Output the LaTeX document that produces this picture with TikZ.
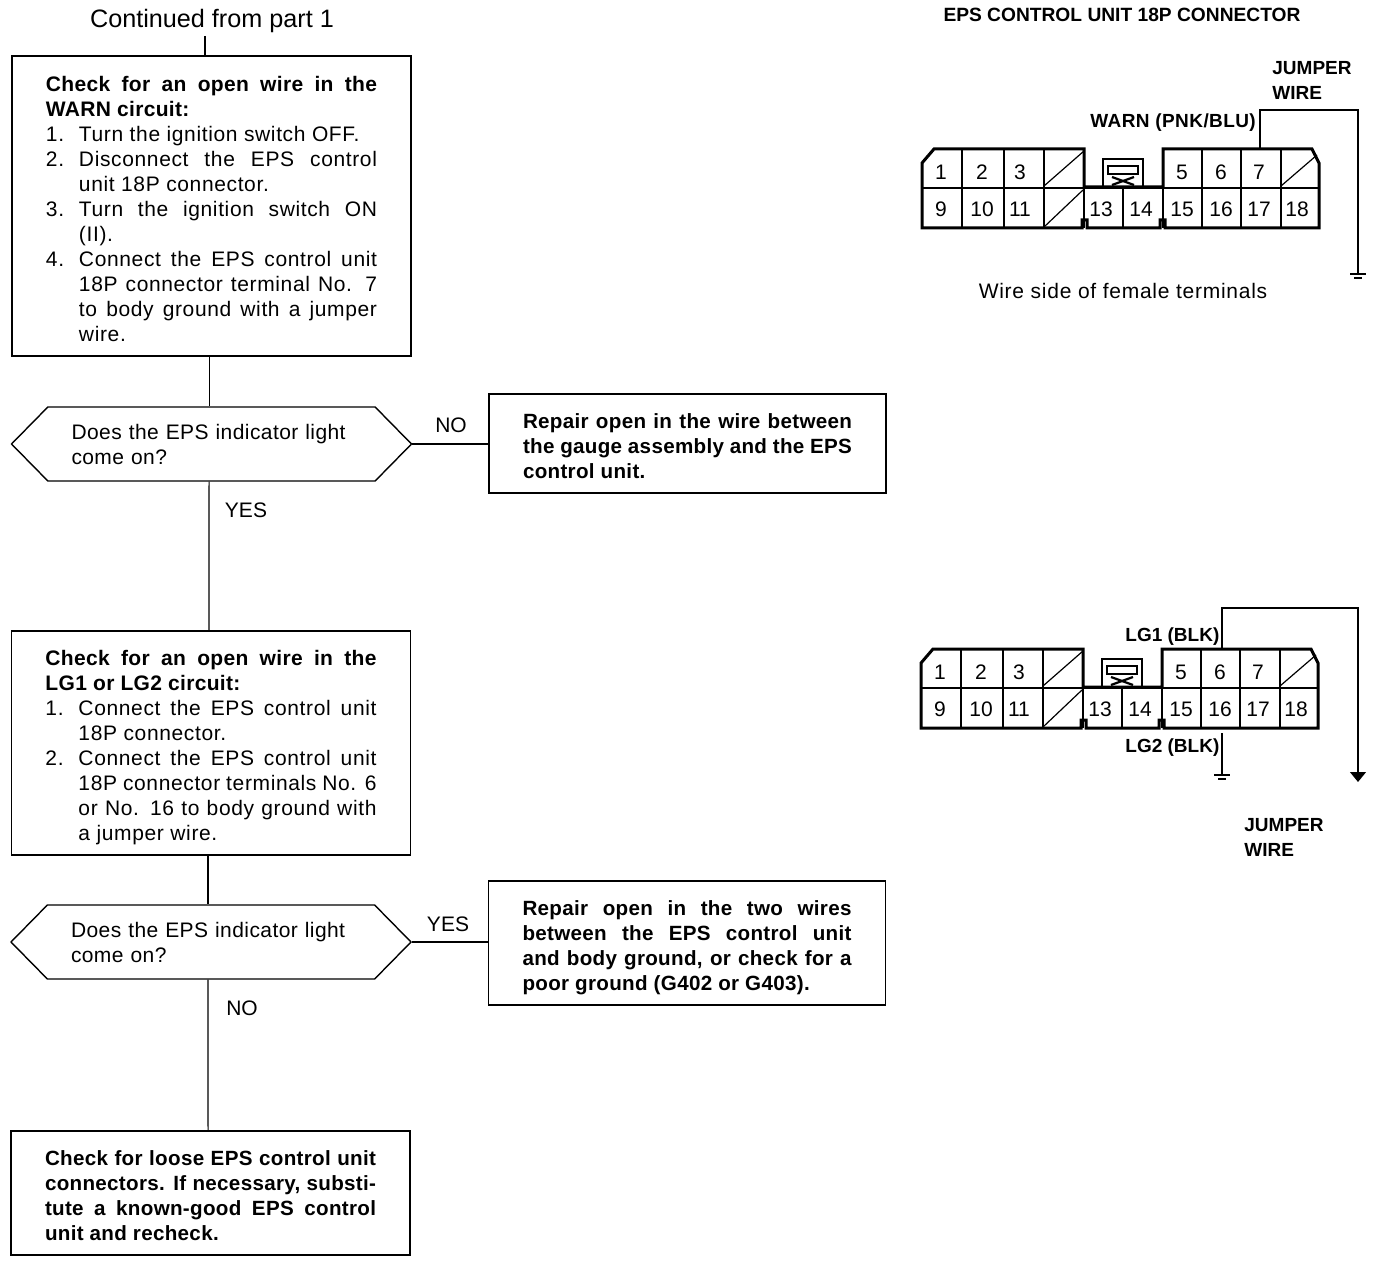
\documentclass[tikz,border=0pt]{standalone}
\usepackage{fontspec}
\setmainfont{Liberation Sans}
\usetikzlibrary{shapes.symbols,arrows.meta}
\newcommand{\stepitem}[2]{\par\hangindent=16.5pt\hangafter=1\noindent\hbox to 16.5pt{#1\hfil}#2\par}
\tikzset{
    textdrop/.style={execute at begin node={\rule{0pt}{#1}}},
    flowbox/.style={draw, line width=0.7pt, rectangle, inner xsep=17pt, inner ysep=0pt, text width=165.5pt, align=justify, font=\fontsize{10.5}{12.5}\selectfont\addfontfeatures{LetterSpace=3}},
    repairbox/.style={flowbox, inner xsep=17pt, text width=164.5pt, font=\fontsize{10.3}{12.5}\selectfont\bfseries\addfontfeatures{LetterSpace=1.5}},
    decision/.style={draw, line width=0.7pt, signal, signal to=west and east, signal pointer angle=91, minimum width=200pt, minimum height=37pt, inner sep=0pt, text width=140pt, align=left, font=\fontsize{10.5}{12.5}\selectfont\addfontfeatures{LetterSpace=2}},
    answer/.style={inner sep=0pt, font=\fontsize{10.5}{12.5}\selectfont},
    tag/.style={inner sep=0pt, anchor=west, align=left, font=\fontsize{9.5}{12.5}\selectfont\bfseries},
    pinnum/.style={inner sep=0pt, font=\fontsize{10.5}{12.5}\selectfont},
    wire/.style={line width=0.6pt},
    pics/epsconn/.style={code={
        \draw[line width=1.5pt] (0,14) -- (12,0) -- (162,0) -- (162,38) -- (241,38) -- (241,0) -- (390,0) -- (397,14) -- (397,79) -- (243,79) -- (243,71) -- (238,71) -- (238,79) -- (165,79) -- (165,71) -- (160,71) -- (160,79) -- (0,79) -- cycle;
        \draw[line width=0.7pt] (0,39) -- (397,39);
        \foreach \x in {40,82,122,280,319,359} {
            \draw[line width=0.6pt] (\x,0) -- (\x,79);
        }
        \draw[line width=0.6pt] (201,39) -- (201,79);
        \draw[line width=0.6pt] (162,38) -- (162,79);
        \draw[line width=0.6pt] (241,38) -- (241,79);
        % blanked cells
        \draw[line width=0.6pt] (122,37) -- (162,2);
        \draw[line width=0.6pt] (122,78) -- (161,41);
        \draw[line width=0.6pt] (359,37) -- (395,6);
        % latch
        \draw[line width=1.3pt] (181,38) -- (181,10) -- (221,10) -- (221,38);
        \draw[line width=1.1pt] (186,17) rectangle (216,25);
        \draw[line width=1.1pt] (190,28) -- (212,36);
        \draw[line width=1.1pt] (212,28) -- (190,36);
        \foreach \n/\x in {1/19,2/60,3/98,5/260,6/299,7/337} {
            \node[pinnum] (p\n) at (\x,23) {\n};
        }
        \foreach \n/\x in {9/19,10/60,11/98,13/179,14/219,15/260,16/299,17/337,18/375} {
            \node[pinnum] (p\n) at (\x,60) {\n};
        }
    }},
    pics/gnd/.style={code={
        \draw[line width=0.9pt] (-8,0) -- (8,0);
        \draw[line width=0.9pt] (-4,4) -- (4,4);
    }},
}
\begin{document}
\begin{tikzpicture}[x=0.5pt, y=-0.5pt]
    \useasboundingbox (0,0) rectangle (1376,1262);
    % flow chart
    \node[inner sep=0pt, font=\fontsize{12.6}{14}\selectfont] (cont) at (212,21) {Continued from part 1};
    \node[flowbox, textdrop=10.6pt, minimum height=150pt] (warnbox) at (211.5,206) {{\bfseries\addfontfeatures{LetterSpace=1.5} Check for an open wire in the\linebreak WARN circuit:}
        \stepitem{1.}{Turn the ignition switch OFF.}
        \stepitem{2.}{Disconnect the EPS control\linebreak unit 18P connector.}
        \stepitem{3.}{Turn the ignition switch ON\linebreak (II).}
        \stepitem{4.}{Connect the EPS control unit\linebreak 18P connector terminal No. 7\linebreak to body ground with a jumper\linebreak wire.}};
    \node[decision] (lightone) at (211.5,444) {Does the EPS indicator light\\come on?};
    \node[repairbox, textdrop=10.6pt, minimum height=49.5pt] (repairone) at (687.5,443.5) {Repair open in the wire between\linebreak the gauge assembly and the EPS\linebreak control unit.};
    \node[flowbox, textdrop=12.6pt, minimum height=112pt] (lgbox) at (211,743) {{\bfseries\addfontfeatures{LetterSpace=1.5} Check for an open wire in the\linebreak LG1 or LG2 circuit:}
        \stepitem{1.}{Connect the EPS control unit\linebreak 18P connector.}
        \stepitem{2.}{Connect the EPS control unit\linebreak 18P connector terminals No. 6\linebreak or No. 16 to body ground with\linebreak a jumper wire.}};
    \node[decision] (lighttwo) at (211,942) {Does the EPS indicator light\\come on?};
    \node[repairbox, textdrop=12.6pt, minimum height=62pt] (repairtwo) at (687,943) {Repair open in the two wires\linebreak between the EPS control unit\linebreak and body ground, or check for a\linebreak poor ground (G402 or G403).};
    \node[repairbox, textdrop=9.6pt, text width=165.5pt, minimum height=62pt] (loosebox) at (210.5,1193) {Check for loose EPS control unit\linebreak connectors. If necessary, substi-\linebreak tute a known-good EPS control\linebreak unit and recheck.};
    \coordinate (contend) at (205,36);
    \draw[wire] (contend) -- (contend |- warnbox.north);
    \draw[wire] ([xshift=-1.2pt]warnbox.south) -- ([xshift=-1.2pt]lightone.north);
    \draw[wire] ([xshift=-1.2pt]lightone.south) -- ([xshift=-1pt]lgbox.north);
    \draw[wire] ([xshift=-1.5pt]lgbox.south) -- ([xshift=-1.5pt]lighttwo.north);
    \draw[wire] ([xshift=-1.5pt]lighttwo.south) -- ([xshift=-1.2pt]loosebox.north);
    \draw[wire] (lightone.east) -- (lightone.east -| repairone.west);
    \draw[wire] (lighttwo.east) -- (lighttwo.east -| repairtwo.west);
    \node[answer] (noone) at (451,425) {NO};
    \node[answer] (yesone) at (246,510) {YES};
    \node[answer] (yestwo) at (448,924) {YES};
    \node[answer] (notwo) at (242,1008) {NO};
    % connector views
    \node[inner sep=0pt, font=\fontsize{9.6}{12}\selectfont\bfseries] (title) at (1122,15) {EPS CONTROL UNIT 18P CONNECTOR};
    \pic (top) at (922,149) {epsconn};
    \pic (low) at (921,649) {epsconn};
    \node[tag] (jumpone) at (1272,80.5) {JUMPER\\WIRE};
    \node[tag, font=\fontsize{9.5}{12.5}\selectfont\bfseries\addfontfeatures{LetterSpace=2.2}] (warn) at (1090,122.5) {WARN (PNK/BLU)};
    \node[inner sep=0pt, font=\fontsize{10.5}{12.5}\selectfont\addfontfeatures{LetterSpace=3.5}] (side) at (1123,291) {Wire side of female terminals};
    \node[tag] (lgone) at (1125,636.5) {LG1 (BLK)};
    \node[tag] (lgtwo) at (1125,747.5) {LG2 (BLK)};
    \node[tag] (jumptwo) at (1244,837.5) {JUMPER\\WIRE};
    % wires
    \coordinate (pinseven) at (1260,149);
    \coordinate (gndone) at (1358,274);
    \coordinate (pinsix) at (1222,649);
    \coordinate (arrowend) at (1358,782);
    \coordinate (pinsixteen) at (1222,733);
    \coordinate (gndtwo) at (1222,775);
    \draw[wire] (pinseven) -- (1260,110) -- (1358,110) -- (gndone);
    \pic at (gndone) {gnd};
    \draw[wire, -{Triangle[width=8pt,length=5pt]}] (pinsix) -- (1222,608) -- (1358,608) -- (arrowend);
    \draw[wire] (pinsixteen) -- (gndtwo);
    \pic at (gndtwo) {gnd};
\end{tikzpicture}
\end{document}
